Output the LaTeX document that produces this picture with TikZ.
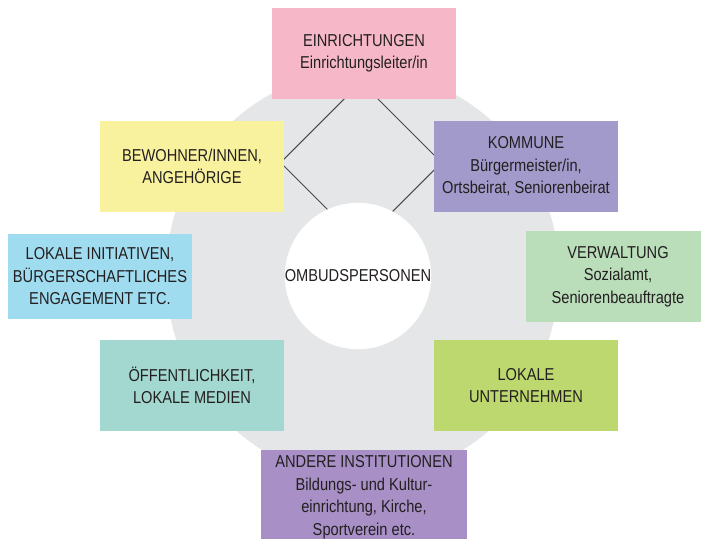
\documentclass[tikz,border=0pt]{standalone}
\usepackage{fontspec}
\setmainfont[FakeStretch=0.85]{Liberation Sans}
\usetikzlibrary{backgrounds}

\definecolor{txtgray}{HTML}{231F20}
\definecolor{linegray}{HTML}{4A4A4A}
\definecolor{ringgray}{HTML}{E5E6E8}
\definecolor{pinkbox}{HTML}{F6B8C8}
\definecolor{yellowbox}{HTML}{F8F19E}
\definecolor{violetbox}{HTML}{A19ACA}
\definecolor{bluebox}{HTML}{A0DCF0}
\definecolor{greenbox}{HTML}{BADDBA}
\definecolor{tealbox}{HTML}{A2D8D0}
\definecolor{limebox}{HTML}{BDD86E}
\definecolor{purplebox}{HTML}{A88FC6}

\begin{document}
\begin{tikzpicture}[box_node/.style={rectangle, minimum width=3.68cm, minimum height=1.82cm, inner sep=0, align=center, text=txtgray, font=\fontsize{9.8}{12.8}\selectfont},
  center_node/.style={circle, fill=white, minimum size=2.78cm, inner sep=0, text=txtgray, font=\fontsize{9.8}{12.8}\selectfont}]
    \useasboundingbox (0,0) rectangle (14.02,-10.76);
    \clip (0,0) rectangle (14.02,-10.76);

    \node[center_node] (0) at (7.16,-5.52) {OMBUDSPERSONEN};
    \node[box_node, fill=pinkbox] (1) at (7.28,-1.07) {EINRICHTUNGEN\\Einrichtungsleiter/in};
    \node[box_node, fill=violetbox] (2) at (10.52,-3.33) {KOMMUNE\\Bürgermeister/in,\\Ortsbeirat, Seniorenbeirat};
    \node[box_node, fill=greenbox] (3) at (12.36,-5.53) {VERWALTUNG\\Sozialamt,\\Seniorenbeauftragte};
    \node[box_node, fill=limebox] (4) at (10.52,-7.71) {LOKALE\\UNTERNEHMEN};
    \node[box_node, fill=purplebox, minimum width=4.12cm, minimum height=1.9cm] (5) at (7.28,-9.95) {ANDERE INSTITUTIONEN\\Bildungs- und Kultur-\\einrichtung, Kirche,\\Sportverein etc.};
    \node[box_node, fill=tealbox] (6) at (3.84,-7.71) {ÖFFENTLICHKEIT,\\LOKALE MEDIEN};
    \node[box_node, fill=bluebox, minimum height=1.7cm] (7) at (2.00,-5.53) {LOKALE INITIATIVEN,\\BÜRGERSCHAFTLICHES\\ENGAGEMENT ETC.};
    \node[box_node, fill=yellowbox] (8) at (3.84,-3.33) {BEWOHNER/INNEN,\\ANGEHÖRIGE};

    % ring and links behind the boxes
    \begin{pgfonlayer}{background}
    \fill[ringgray] (7.25,-5.49) ellipse (3.93 and 4.08);
    \coordinate (t) at (7.22,-1.64);
    \coordinate (l) at (5.61,-3.25);
    \coordinate (b) at (7.22,-4.86);
    \coordinate (r) at (8.83,-3.25);
    \draw[linegray, line width=0.6pt] (t) -- (l) -- (b) -- (r) -- cycle;
    \end{pgfonlayer}

\end{tikzpicture}
\end{document}
